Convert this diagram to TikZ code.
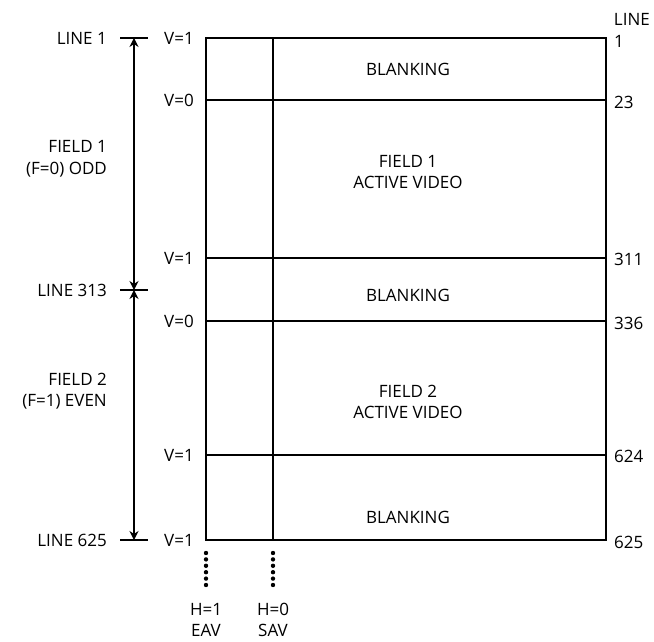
\documentclass[tikz,border=0pt]{standalone}
\usepackage{fontspec}
\setmainfont{Open Sans}
\usetikzlibrary{positioning, arrows.meta, calc}
\tikzset{
  lbl/.style ={font=\fontsize{17}{21.5}\selectfont, inner sep=1pt},
  frame/.style={line width=2.6pt},
  dim/.style ={line width=1.2pt, {Stealth[length=9pt,width=9pt]}-{Stealth[length=9pt,width=9pt]}},
  tick/.style={line width=1.2pt},
  dots/.style={line width=4.4pt, line cap=round, dash pattern=on 0pt off 6.4pt}
}

\begin{document}
\begin{tikzpicture}[x=1pt, y=-1pt]
  \useasboundingbox (0,0) rectangle (654,642);

  % frame corners and row lines
  \coordinate (top l) at (206,38);
  \coordinate (top r) at (606,38);
  \coordinate (bot l) at (206,540);
  \coordinate (bot r) at (606,540);
  \coordinate (sav t) at (273,38);
  \coordinate (sav b) at (273,540);
  \foreach \n/\y in {r1/100, r2/258, r3/321, r4/455} {
    \coordinate (\n l) at (206,\y);
    \coordinate (\n r) at (606,\y);
  }

  % frame
  \draw[frame] (top l) rectangle (bot r);
  \draw[frame] (sav t) -- (sav b);
  \foreach \n in {r1, r2, r3, r4}
    \draw[frame] (\n l) -- (\n r);

  % region texts
  \node[lbl]              (blank1) at (408,69)  {BLANKING};
  \node[lbl, align=center] (act1)  at (408,172) {FIELD 1\\ACTIVE VIDEO};
  \node[lbl]              (blank2) at (408,295) {BLANKING};
  \node[lbl, align=center] (act2)  at (408,402) {FIELD 2\\ACTIVE VIDEO};
  \node[lbl]              (blank3) at (408,517) {BLANKING};

  % line numbers on the right
  \node[lbl, anchor=east] (hdr)   at (651,19)  {LINE};
  \node[lbl, anchor=west] (n1)    at (613,41)  {1};
  \node[lbl, anchor=west] (n23)   at (613,102) {23};
  \node[lbl, anchor=west] (n311)  at (613,259) {311};
  \node[lbl, anchor=west] (n336)  at (613,323) {336};
  \node[lbl, anchor=west] (n624)  at (613,456) {624};
  \node[lbl, anchor=west] (n625)  at (613,542) {625};

  % V flags on the left
  \node[lbl, anchor=east] (v1)  at (195,38)  {V=1};
  \node[lbl, anchor=east] (v2)  at (195,100) {V=0};
  \node[lbl, anchor=east] (v3)  at (195,258) {V=1};
  \node[lbl, anchor=east] (v4)  at (195,321) {V=0};
  \node[lbl, anchor=east] (v5)  at (195,455) {V=1};
  \node[lbl, anchor=east] (v6)  at (195,540) {V=1};

  % field extents
  \coordinate (m1) at (134,38);
  \coordinate (m2) at (134,290);
  \coordinate (m3) at (134,540);
  \foreach \m in {m1, m2, m3}
    \draw[tick] ($(\m)+(-14,0)$) -- ($(\m)+(14,0)$);
  \draw[dim] (m1) -- (m2);
  \draw[dim] (m2) -- (m3);

  \node[lbl, anchor=east] (l1)   at (108,38)  {LINE 1};
  \node[lbl, anchor=east] (l313) at (108,290) {LINE 313};
  \node[lbl, anchor=east] (l625) at (108,540) {LINE 625};
  \node[lbl, anchor=east, align=right] (f1) at (108,159) {FIELD 1\\(F=0) ODD};
  \node[lbl, anchor=east, align=right] (f2) at (108,391) {FIELD 2\\(F=1) EVEN};

  % timing reference marks
  \draw[dots] (206,553) -- (206,589);
  \draw[dots] (273,553) -- (273,589);
  \node[lbl, align=center] (eav) at (206,620) {H=1\\EAV};
  \node[lbl, align=center] (sav) at (273,620) {H=0\\SAV};
\end{tikzpicture}
\end{document}
